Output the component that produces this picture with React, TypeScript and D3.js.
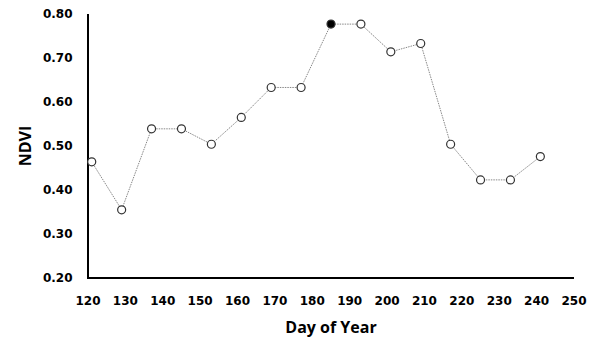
import React from "react";
import * as d3 from "d3";

const days = [121, 129, 137, 145, 153, 161, 169, 177, 185, 193, 201, 209, 217, 225, 233, 241];
const ndvi = [0.464, 0.355, 0.539, 0.539, 0.504, 0.565, 0.633, 0.633, 0.777, 0.777, 0.714, 0.733, 0.504, 0.423, 0.423, 0.476];
const filledDay = 185;
const xTicks = [120, 130, 140, 150, 160, 170, 180, 190, 200, 210, 220, 230, 240, 250];
const yTicks = [0.2, 0.3, 0.4, 0.5, 0.6, 0.7, 0.8];

export default function App() {
  const W = 600, H = 354;
  const x = d3.scaleLinear().domain([120, 250]).range([88, 574]);
  const y = d3.scaleLinear().domain([0.2, 0.8]).range([278, 14]);
  const pts = days.map((d, i) => ({ d, v: ndvi[i] }));
  const line = d3.line<{ d: number; v: number }>().x(p => x(p.d)).y(p => y(p.v));
  const font = "'Open Sans', sans-serif";
  const tickFont = "'DejaVu Sans', Verdana, sans-serif";
  return (
    <svg width={W} height={H} style={{ position: "absolute", left: 0, top: 0, background: "#fff" }}>
      <rect width={W} height={H} fill="#fff" />
      <path d={line(pts) || ""} fill="none" stroke="#888" strokeWidth={1} strokeDasharray="1.5,1" />
      <line x1={x(120)} x2={x(120)} y1={y(0.8)} y2={y(0.2) + 1} stroke="#000" strokeWidth={2} />
      <line x1={x(120) - 1} x2={x(250)} y1={y(0.2)} y2={y(0.2)} stroke="#000" strokeWidth={2} />
      {pts.map((p, i) => (
        <circle key={i} cx={x(p.d)} cy={y(p.v)} r={4}
          fill={p.d === filledDay ? "#000" : "#fff"} stroke="#333" strokeWidth={1.2} />
      ))}
      {yTicks.map(t => (
        <text key={t} x={72.5} y={y(t)} dy="0.36em" textAnchor="end" fontFamily={tickFont}
          fontWeight={700} fontSize={12} fill="#000">{t.toFixed(2)}</text>
      ))}
      {xTicks.map(t => (
        <text key={t} x={x(t)} y={305} textAnchor="middle" fontFamily={tickFont}
          fontWeight={700} fontSize={12} fill="#000">{t}</text>
      ))}
      <text x={331} y={333} textAnchor="middle" fontFamily={font} fontWeight={700} fontSize={16} fill="#000">Day of Year</text>
      <text transform="translate(31,146) rotate(-90)" textAnchor="middle" fontFamily={font} fontWeight={700} fontSize={16} fill="#000">NDVI</text>
    </svg>
  );
}
